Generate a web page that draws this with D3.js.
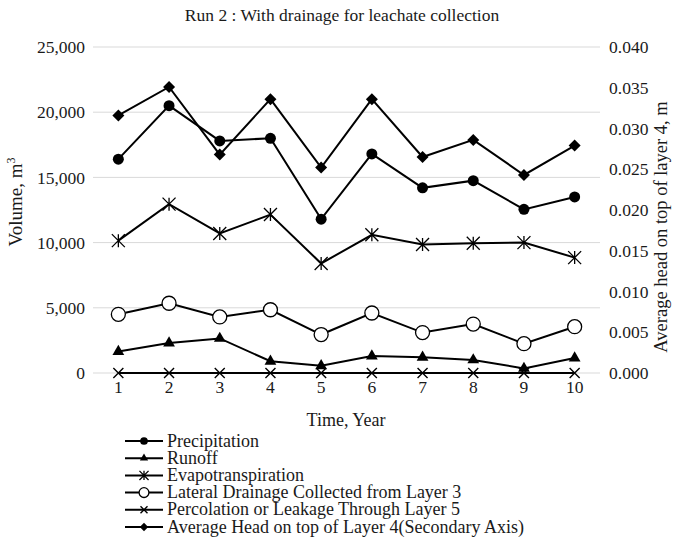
<!DOCTYPE html>
<html><head><meta charset="utf-8">
<script src="https://cdn.jsdelivr.net/npm/d3@7"></script>
<style>body{margin:0;background:#fff}svg{display:block;font-family:"Liberation Serif","Times New Roman",serif}</style>
</head><body>
<script>
const years = ["1","2","3","4","5","6","7","8","9","10"];
const precipitation = [16400,20500,17800,18000,11800,16800,14200,14750,12550,13500];
const runoff = [1650,2300,2650,900,550,1300,1200,1000,350,1150];
const evapotranspiration = [10150,12950,10700,12150,8400,10600,9850,9950,10000,8850];
const lateralDrainage = [4500,5350,4300,4850,2950,4600,3100,3750,2250,3550];
const percolation = [0,0,0,0,0,0,0,0,0,0];
const averageHead = [0.0316,0.0351,0.0268,0.0336,0.0252,0.0336,0.0265,0.0286,0.0243,0.0279];
const leftTicks = [0,5000,10000,15000,20000,25000];
const rightTicks = [0,0.005,0.010,0.015,0.020,0.025,0.030,0.035,0.040];
const seriesNames = ["Precipitation","Runoff","Evapotranspiration","Lateral Drainage Collected from Layer 3","Percolation or Leakage Through Layer 5","Average Head on top of Layer 4(Secondary Axis)"];

const W = 681, H = 554;
const m = {left:93, right:600, top:47, bottom:373};
const svg = d3.select("body").append("svg").attr("width",W).attr("height",H);

const x = d3.scaleBand().domain(years).range([m.left,m.right]);
const yL = d3.scaleLinear().domain([0,25000]).range([m.bottom,m.top]);
const yR = d3.scaleLinear().domain([0,0.04]).range([m.bottom,m.top]);
const cx = d => x(d) + x.bandwidth()/2;
const TXT = "#1a1a1a";

// gridlines
svg.append("g").selectAll("line").data(leftTicks).join("line")
  .attr("x1",m.left).attr("x2",m.right).attr("y1",d=>yL(d)).attr("y2",d=>yL(d))
  .attr("stroke","#d9d9d9").attr("stroke-width",1);

// left axis
const fmt = d3.format(",");
const gl = svg.append("g").attr("transform",`translate(${m.left},0)`)
  .call(d3.axisLeft(yL).tickValues(leftTicks).tickFormat(fmt).tickSize(0).tickPadding(8));
gl.select(".domain").remove();
gl.selectAll("text").attr("font-size",17.5).attr("font-family","Liberation Serif").attr("fill",TXT);

const gr = svg.append("g").attr("transform",`translate(${m.right},0)`)
  .call(d3.axisRight(yR).tickValues(rightTicks).tickFormat(d3.format(".3f")).tickSize(0).tickPadding(9));
gr.select(".domain").remove();
gr.selectAll("text").attr("font-size",17.5).attr("font-family","Liberation Serif").attr("fill",TXT);

const gx = svg.append("g").attr("transform",`translate(0,${m.bottom})`)
  .call(d3.axisBottom(x).tickSize(0).tickPadding(8));
gx.select(".domain").remove();
gx.selectAll("text").attr("font-size",17.5).attr("font-family","Liberation Serif").attr("fill",TXT);

// titles
svg.append("text").attr("x",342).attr("y",21).attr("text-anchor","middle")
  .attr("font-size",17.5).attr("fill",TXT).text("Run 2 : With drainage for leachate collection");
svg.append("text").attr("x",346).attr("y",426).attr("text-anchor","middle")
  .attr("font-size",18).attr("fill",TXT).text("Time, Year");
const yl = svg.append("text").attr("transform","translate(22,202) rotate(-90)").attr("text-anchor","middle")
  .attr("font-size",19).attr("fill",TXT);
yl.append("tspan").text("Volume, m");
yl.append("tspan").attr("font-size",12).attr("dy",-7).text("3");
svg.append("text").attr("transform","translate(667,227) rotate(-90)").attr("text-anchor","middle")
  .attr("font-size",18.5).attr("fill",TXT).text("Average head on top of layer 4, m");

// markers
function marker(g, type, s){
  const k = s||1;
  if(type==="circle") g.append("circle").attr("r",5.5*k).attr("fill","#000");
  else if(type==="triangle") g.append("path").attr("d",d3.symbol(d3.symbolTriangle,60*k*k)()).attr("fill","#000");
  else if(type==="diamond") g.append("path").attr("d",`M0,${-6*k}L${6*k},0L0,${6*k}L${-6*k},0Z`).attr("fill","#000");
  else if(type==="open") g.append("circle").attr("r",7*k).attr("fill","#fff").attr("stroke","#000").attr("stroke-width",1.3);
  else if(type==="star"){
    const r=6.5*k;
    g.append("path").attr("d",`M${-r},${-r}L${r},${r}M${-r},${r}L${r},${-r}M0,${-r}L0,${r}`).attr("stroke","#000").attr("stroke-width",1.3).attr("fill","none");
  } else if(type==="x"){
    const r=5*k;
    g.append("path").attr("d",`M${-r},${-r}L${r},${r}M${-r},${r}L${r},${-r}`).attr("stroke","#000").attr("stroke-width",1.4).attr("fill","none");
  }
}

const series = [
  {vals:precipitation, y:yL, type:"circle"},
  {vals:runoff, y:yL, type:"triangle"},
  {vals:evapotranspiration, y:yL, type:"star"},
  {vals:lateralDrainage, y:yL, type:"open"},
  {vals:percolation, y:yL, type:"x"},
  {vals:averageHead, y:yR, type:"diamond"}
];
const drawOrder = [4,1,3,2,0,5];
drawOrder.forEach(i=>{
  const s = series[i];
  const pts = s.vals.map((v,j)=>[cx(years[j]), s.y(v)]);
  svg.append("path").attr("d",d3.line()(pts)).attr("fill","none").attr("stroke","#000").attr("stroke-width",2);
  pts.forEach(p=>{ marker(svg.append("g").attr("transform",`translate(${p[0]},${p[1]})`), s.type); });
});

// legend
const lg = svg.append("g");
seriesNames.forEach((name,i)=>{
  const yy = 441 + i*17.2;
  lg.append("line").attr("x1",125).attr("x2",163).attr("y1",yy).attr("y2",yy).attr("stroke","#000").attr("stroke-width",2);
  marker(lg.append("g").attr("transform",`translate(144,${yy})`), series[i].type, 0.7);
  lg.append("text").attr("x",167).attr("y",yy+5.5).attr("font-size",18).attr("fill",TXT).text(name);
});
</script>
</body></html>
